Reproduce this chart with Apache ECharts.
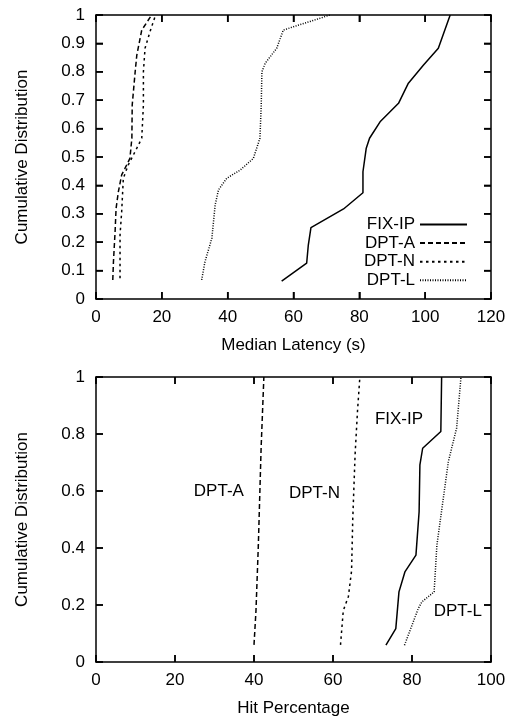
<!DOCTYPE html>
<html>
<head>
<meta charset="utf-8">
<script src="https://cdn.jsdelivr.net/npm/echarts@6/dist/echarts.min.js"></script>
<style>
html,body{margin:0;padding:0;background:#fff;}
#chart{width:514px;height:719px;}
</style>
</head>
<body>
<div id="chart"></div>
<script>
// ---------- data ----------
const seriesNames = ['FIX-IP', 'DPT-A', 'DPT-N', 'DPT-L'];

// Top panel: Median Latency (s) vs cumulative distribution
const latFixIp = [[56.4,0.063],[64.0,0.126],[64.5,0.19],[65.3,0.251],[75.2,0.317],[81.1,0.374],[81.1,0.448],[82.1,0.531],[83.1,0.566],[86.3,0.624],[91.9,0.689],[94.9,0.76],[99.5,0.824],[104.0,0.883],[107.6,1.0]];
const latDptA = [[5.1,0.067],[5.3,0.131],[5.8,0.237],[6.1,0.319],[6.8,0.378],[7.8,0.437],[8.8,0.46],[10.3,0.495],[10.9,0.566],[11.0,0.683],[11.9,0.8],[12.4,0.859],[13.9,0.947],[16.9,1.0]];
const latDptN = [[7.3,0.073],[7.3,0.225],[7.8,0.307],[8.3,0.425],[9.8,0.472],[12.4,0.531],[13.9,0.566],[14.4,0.683],[14.4,0.8],[14.9,0.883],[16.4,0.941],[18.1,1.0]];
const latDptL = [[32.1,0.067],[33.1,0.131],[35.2,0.214],[36.2,0.331],[37.2,0.384],[39.7,0.425],[43.8,0.454],[47.8,0.495],[49.8,0.566],[50.2,0.683],[50.4,0.8],[51.4,0.83],[54.9,0.883],[56.9,0.947],[71.1,1.0]];

// Bottom panel: Hit Percentage vs cumulative distribution
const hitFixIp = [[73.4,0.059],[75.9,0.117],[76.7,0.246],[78.2,0.316],[81.0,0.375],[81.8,0.527],[82.0,0.692],[82.7,0.75],[87.3,0.809],[87.5,1.0]];
const hitDptA = [[40.0,0.06],[40.5,0.18],[41.1,0.41],[41.8,0.75],[42.5,1.0]];
const hitDptN = [[61.9,0.06],[62.6,0.18],[63.9,0.23],[64.7,0.32],[65.0,0.5],[65.6,0.73],[66.2,0.88],[66.8,1.0]];
const hitDptL = [[78.1,0.059],[81.6,0.188],[82.5,0.211],[85.6,0.246],[86.3,0.41],[89.2,0.703],[91.3,0.821],[92.4,1.0]];

// In-plot labels of the bottom panel: [x, y, text]
const hitLabels = [[76.7,0.85,'FIX-IP'],[31.1,0.598,'DPT-A'],[55.3,0.593,'DPT-N'],[91.6,0.178,'DPT-L']];

// Tick values
const latencyTicks = [0,20,40,60,80,100,120];
const hitTicks = [0,20,40,60,80,100];
const cdfTicksTop = [0,0.1,0.2,0.3,0.4,0.5,0.6,0.7,0.8,0.9,1];
const cdfTicksBottom = [0,0.2,0.4,0.6,0.8,1];

const axisTitles = {latX:'Median Latency (s)', hitX:'Hit Percentage', y:'Cumulative Distribution'};

// ---------- styles ----------
const FONT = '"Liberation Sans", Arial, Helvetica, sans-serif';
const FS = 17;
const TICK_LEN = 7;
const lineTypes = {
  'FIX-IP': 'solid',
  'DPT-A': [5, 3],
  'DPT-N': [2.5, 3.5],
  'DPT-L': [1, 1.5]
};

function step(t){ return t[1]-t[0]; }

function mkAxes(ticksX, ticksY, gridIndex, xName){
  const lineS = () => ({show:true, onZero:false, lineStyle:{color:'#000', width:1.5}});
  const tickS = () => ({show:true, inside:true, length:TICK_LEN, lineStyle:{color:'#000', width:1.5}});
  const labelS = {show:true, color:'#000', fontFamily:FONT, fontSize:FS, margin:10};
  const xBase = () => ({type:'value', gridIndex, min:ticksX[0], max:ticksX[ticksX.length-1], interval:step(ticksX), splitLine:{show:false}, axisLine:lineS(), axisTick:tickS()});
  const yBase = () => ({type:'value', gridIndex, min:ticksY[0], max:ticksY[ticksY.length-1], interval:step(ticksY), splitLine:{show:false}, axisLine:lineS(), axisTick:tickS()});
  const xs = [
    Object.assign(xBase(), {position:'bottom', axisLabel:labelS, name:xName, nameLocation:'middle', nameGap:38, nameTextStyle:{color:'#000', fontFamily:FONT, fontSize:FS}}),
    Object.assign(xBase(), {position:'top', axisLabel:{show:false}})
  ];
  const ys = [
    Object.assign(yBase(), {position:'left', axisLabel:Object.assign({}, labelS, {margin:11}), name:axisTitles.y, nameLocation:'middle', nameGap:65, nameTextStyle:{color:'#000', fontFamily:FONT, fontSize:FS}}),
    Object.assign(yBase(), {position:'right', axisLabel:{show:false}})
  ];
  return {xs, ys};
}

const axesTop = mkAxes(latencyTicks, cdfTicksTop, 0, axisTitles.latX);
const axesBot = mkAxes(hitTicks, cdfTicksBottom, 1, axisTitles.hitX);

function lineSeries(name, data, xi, yi){
  return {
    name, type:'line', data, xAxisIndex:xi, yAxisIndex:yi,
    symbol:'none', smooth:false, animation:false,
    lineStyle:{color:'#000', width:1.5, type:lineTypes[name]},
    itemStyle:{color:'#000'}
  };
}

const topData = [latFixIp, latDptA, latDptN, latDptL];
const botData = [hitFixIp, hitDptA, hitDptN, hitDptL];

const seriesList = [];
seriesNames.forEach((n,i)=>seriesList.push(lineSeries(n, topData[i], 0, 0)));
seriesNames.forEach((n,i)=>seriesList.push(lineSeries(n, botData[i], 2, 2)));
seriesList.push({
  name:'labels', type:'scatter', xAxisIndex:2, yAxisIndex:2, symbolSize:0, silent:true, animation:false,
  data: hitLabels,
  itemStyle:{opacity:1, color:'#000'},
  label:{show:true, position:'inside', formatter:p=>p.value[2], color:'#000', opacity:1, fontFamily:FONT, fontSize:FS}
});

const legends = seriesNames.map((n,i)=>({
  data:[n], orient:'vertical', align:'right', right:46, top:216 + i*18.6,
  itemWidth:47, itemHeight:12, itemGap:0, padding:0, selectedMode:false,
  itemStyle:{opacity:0},
  textStyle:{color:'#000', fontFamily:FONT, fontSize:FS}
}));

const option = {
  animation:false,
  textStyle:{fontFamily:FONT},
  grid:[
    {left:96, top:15, width:395, height:284},
    {left:96, top:377, width:395, height:285}
  ],
  xAxis:[...axesTop.xs, ...axesBot.xs],
  yAxis:[...axesTop.ys, ...axesBot.ys],
  legend:legends,
  series:seriesList
};

const chart = echarts.init(document.getElementById('chart'), null, {renderer:'canvas'});
chart.setOption(option);

// Mirrored inward tick marks on all four sides, placed through the axes' own scales
function tickGraphics(gridIndex, ticksX, ticksY){
  const els = [];
  const x0 = ticksX[0], x1 = ticksX[ticksX.length-1];
  const y0 = ticksY[0], y1 = ticksY[ticksY.length-1];
  const st = {stroke:'#000', lineWidth:1.5};
  ticksX.forEach(v=>{
    const pb = chart.convertToPixel({gridIndex}, [v, y0]);
    const pt = chart.convertToPixel({gridIndex}, [v, y1]);
    if (!pb || !pt) return;
    els.push({type:'line', silent:true, z:50, shape:{x1:pb[0], y1:pb[1], x2:pb[0], y2:pb[1]-TICK_LEN}, style:st});
    els.push({type:'line', silent:true, z:50, shape:{x1:pt[0], y1:pt[1], x2:pt[0], y2:pt[1]+TICK_LEN}, style:st});
  });
  ticksY.forEach(v=>{
    const pl = chart.convertToPixel({gridIndex}, [x0, v]);
    const pr = chart.convertToPixel({gridIndex}, [x1, v]);
    if (!pl || !pr) return;
    els.push({type:'line', silent:true, z:50, shape:{x1:pl[0], y1:pl[1], x2:pl[0]+TICK_LEN, y2:pl[1]}, style:st});
    els.push({type:'line', silent:true, z:50, shape:{x1:pr[0], y1:pr[1], x2:pr[0]-TICK_LEN, y2:pr[1]}, style:st});
  });
  return els;
}
chart.setOption({graphic:{elements:[
  ...tickGraphics(0, latencyTicks, cdfTicksTop),
  ...tickGraphics(1, hitTicks, cdfTicksBottom)
]}});
</script>
</body>
</html>
